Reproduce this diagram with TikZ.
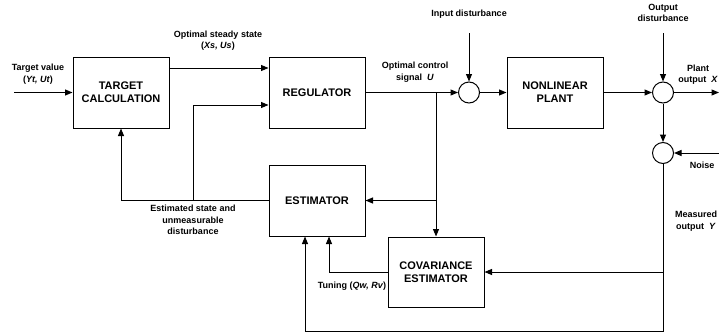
\documentclass[tikz,border=0pt]{standalone}
\usepackage{fontspec}
\setmainfont{Liberation Sans}
\usetikzlibrary{arrows.meta}
\tikzset{
  blk/.style={draw, line width=1pt, minimum width=96pt, minimum height=71pt, inner sep=0pt, align=center, font=\fontsize{11}{13}\selectfont\bfseries},
  sumc/.style={draw, line width=1pt, circle, minimum size=21pt, inner sep=0pt},
  lbl/.style={align=center, inner sep=0pt, font=\fontsize{9}{11.5}\selectfont\bfseries},
  arr/.style={line width=1pt, -{Triangle[length=7.5pt,width=6pt]}},
}
\begin{document}
\begin{tikzpicture}[x=1pt,y=-1pt]
\useasboundingbox (0,0) rectangle (719,332);
% blocks
\node[blk] (TC) at (121,92.5) {TARGET\\CALCULATION};
\node[blk] (REG) at (317,92.5) {REGULATOR};
\node[blk] (NP) at (555,92.5) {NONLINEAR\\PLANT};
\node[blk] (EST) at (317,200.5) {ESTIMATOR};
\node[blk, minimum height=70pt] (COV) at (436,272) {COVARIANCE\\ESTIMATOR};
% summing junctions
\node[sumc] (S1) at (469,92.5) {};
\node[sumc] (S2) at (663,92.5) {};
\node[sumc] (S3) at (663,153) {};
% free ends and branch points
\coordinate (tin) at (14,92.5);
\coordinate (b1) at (193,200.5);
\coordinate (b2) at (436,92.5);
\coordinate (idist) at (469,33);
\coordinate (odist) at (663,33);
\coordinate (pout) at (719,92.5);
\coordinate (noise) at (719,153);
\coordinate (b3) at (663,272);
\coordinate (bl) at (305,331);
% connectors
\draw[arr] (tin) -- (TC.west);
\draw[arr] ([yshift=24.5pt]TC.east) -- ([yshift=24.5pt]REG.west);
\draw[arr] (EST.west) -| (TC.south);
\draw[arr] (b1) |- ([yshift=-12.5pt]REG.west);
\draw[arr] (REG.east) -- (S1.west);
\draw[arr] (b2) -- (COV.north);
\draw[arr] (EST.east -| b2) -- (EST.east);
\draw[arr] (idist) -- (S1.north);
\draw[arr] (S1.east) -- (NP.west);
\draw[arr] (NP.east) -- (S2.west);
\draw[arr] (odist) -- (S2.north);
\draw[arr] (S2.east) -- (pout);
\draw[arr] (S2.south) -- (S3.north);
\draw[arr] (noise) -- (S3.east);
\draw[arr] (S3.south) |- (bl) -- (bl |- EST.south);
\draw[arr] (b3) -- (COV.east);
\draw[arr] (COV.west) -| ([xshift=12pt]EST.south);
% labels
\node[lbl] (lt) at (38,74) {Target value\\(\textit{Yt, Ut})};
\node[lbl] (ls) at (218,40.5) {Optimal steady state\\(\textit{Xs, Us})};
\node[lbl] (lu) at (415,72) {Optimal control\\signal\ \ \textit{U}};
\node[lbl] (li) at (469,14) {Input disturbance};
\node[lbl] (lo) at (663,13) {Output\\disturbance};
\node[lbl] (lp) at (698,74.5) {Plant\\output\ \ \textit{X}};
\node[lbl] (ln) at (702,165.5) {Noise};
\node[lbl] (lm) at (696,221) {Measured\\output\ \ \textit{Y}};
\node[lbl] (le) at (193,220) {Estimated state and\\unmeasurable\\disturbance};
\node[lbl] (ltu) at (352,286) {Tuning (\textit{Qw, Rv})};
\end{tikzpicture}
\end{document}
